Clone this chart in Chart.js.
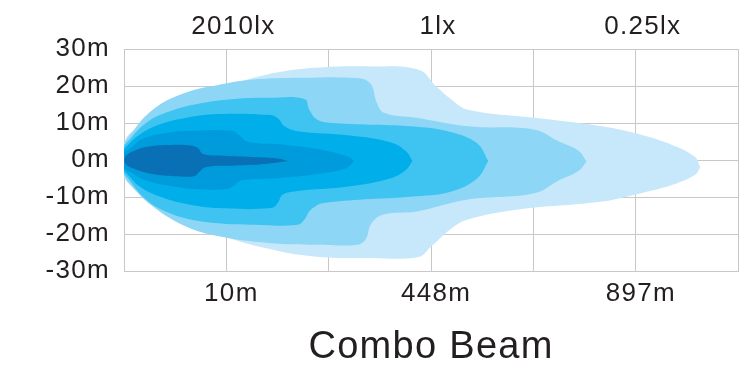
<!DOCTYPE html>
<html><head><meta charset="utf-8">
<script src="https://cdn.jsdelivr.net/npm/chart.js@4.4.1/dist/chart.umd.min.js"></script>
<style>html,body{margin:0;padding:0;background:#fff;overflow:hidden}</style>
</head><body>
<canvas id="c" width="745" height="367"></canvas>
<script>
// ---- tick labels ----
const bottomLabels = ['', '10m', '', '448m', '', '897m', ''];
const topLabels = ['', '2010lx', '', '1lx', '', '0.25lx', ''];
const yTickValues = [-30, -20, -10, 0, 10, 20, 30];
const chartTitle = 'Combo Beam';

// ---- beam contours: [x position (grid units), y offset (m)] ----
const l1Top = [[0,4.5],[0.05,7],[0.25,10.5],[0.57,15.5],[0.99,19.8],[1.38,23],[1.86,24.9],[2.41,25.3],[2.88,24.4],[3.05,19.9],[3.2,16.3],[3.36,13.6],[4.01,11.4],[4.65,9.2],[5.0,7.2],[5.36,4.0],[5.58,0.8],[5.63,-2.0]];
const l1Bottom = [[0,-4.5],[0.053,-6.2],[0.41,-13.4],[0.89,-19.7],[1.38,-23.8],[1.86,-26.1],[2.41,-26.5],[2.88,-26.2],[3.0,-23.4],[3.2,-18.5],[3.36,-16.1],[3.85,-13.4],[4.65,-11.3],[5.0,-9.3],[5.36,-6.7],[5.58,-4.0],[5.63,-2.0]];
const l2Top = [[0,4.2],[0.03,5.8],[0.28,13.6],[0.6,18.2],[0.92,20.3],[1.24,21.7],[1.73,22.2],[2.21,22.2],[2.4,20.9],[2.47,15.5],[2.54,12.8],[2.86,11.4],[3.36,9.1],[4.01,8.2],[4.25,5.0],[4.44,2.5],[4.52,-0.4]];
const l2Bottom = [[0,-4.2],[0.03,-5.8],[0.28,-12.5],[0.6,-17.9],[0.925,-20.6],[1.41,-22.4],[1.89,-22.9],[2.28,-22.9],[2.36,-21.5],[2.42,-17],[2.54,-14.7],[2.86,-13.9],[3.36,-10.7],[4.01,-9.0],[4.25,-5.5],[4.44,-3.0],[4.52,-0.4]];
const l3Top = [[0,3.8],[0.02,4.5],[0.215,10],[0.44,13.1],[0.763,15.4],[1.086,16.5],[1.41,16.8],[1.764,16.5],[1.81,13.6],[1.89,10.9],[2.05,10],[2.86,9.0],[3.2,7.5],[3.45,4.5],[3.56,-0.3]];
const l3Bottom = [[0,-3.8],[0.02,-4.4],[0.215,-10.7],[0.44,-14.3],[0.763,-16.6],[1.247,-17.5],[1.698,-17.5],[1.763,-16.1],[1.827,-13.4],[1.956,-11.6],[2.86,-9.8],[3.2,-8.5],[3.45,-5.0],[3.56,-0.3]];
const l4Top = [[0,3.0],[0.022,3.6],[0.15,6.8],[0.34,9.5],[0.6,11.35],[0.925,12.4],[1.41,12.2],[1.5,11.35],[1.57,9.1],[1.7,7.75],[2.21,6.6],[2.6,4.8],[2.75,2.5],[2.82,-0.3]];
const l4Bottom = [[0,-3.0],[0.022,-3.5],[0.15,-7.1],[0.34,-9.8],[0.6,-11.8],[0.925,-13],[1.44,-13],[1.5,-11.7],[1.55,-9.4],[1.66,-8.5],[2.21,-7.1],[2.6,-5.0],[2.75,-2.8],[2.82,-0.3]];
const l5Top = [[0,2.2],[0.053,3.0],[0.18,5.7],[0.41,7.3],[0.665,7.9],[1.05,7.9],[1.13,6.6],[1.2,5.0],[1.57,4.1],[1.96,2.6],[2.2,0.8],[2.25,-0.35]];
const l5Bottom = [[0,-2.2],[0.053,-3.1],[0.21,-5.5],[0.47,-7.1],[0.76,-8.0],[1.02,-7.8],[1.085,-6.7],[1.15,-5.5],[1.5,-4.9],[1.89,-3.8],[2.17,-2.2],[2.25,-0.35]];
const l6Top = [[0,0],[0.02,1.2],[0.085,2.3],[0.215,3.5],[0.44,4.05],[0.65,3.95],[0.72,3.3],[0.77,1.7],[0.92,1.2],[1.25,0.8],[1.52,0.35],[1.6,-0.3]];
const l6Bottom = [[0,0],[0.02,-1.2],[0.085,-2.2],[0.28,-3.8],[0.5,-4.4],[0.69,-4.3],[0.74,-3.1],[0.8,-1.9],[1.08,-1.5],[1.41,-1.0],[1.6,-0.3]];

const layerColors = ['#0a70b6', '#009bdb', '#00aeea', '#3fc4f1', '#8ed6f6', '#c6e8fa'];
const layerTops = [l6Top, l5Top, l4Top, l3Top, l2Top, l1Top];
const layerBottoms = [l6Bottom, l5Bottom, l4Bottom, l3Bottom, l2Bottom, l1Bottom];

const FONT = "'Liberation Sans', Arial, Helvetica, sans-serif";
const TEXT = '#231f20';
const GRID = '#c8c8c8';

const datasets = [];
layerTops.forEach((top, i) => {
  const common = {showLine: true, borderWidth: 0, pointRadius: 0, pointHoverRadius: 0,
    tension: 0.4, backgroundColor: layerColors[i], borderColor: layerColors[i]};
  datasets.push(Object.assign({label: 'layer' + i + 'top', data: top.map(([x, y]) => ({x, y})), fill: '+1'}, common));
  datasets.push(Object.assign({label: 'layer' + i + 'bottom', data: layerBottoms[i].map(([x, y]) => ({x, y})), fill: false}, common));
});

const spacing = {id: 'spacing', beforeDraw(chart) { chart.ctx.letterSpacing = '1.3px'; }};

new Chart(document.getElementById('c'), {
  type: 'scatter',
  data: {datasets},
  plugins: [spacing],
  options: {
    responsive: false, devicePixelRatio: 1, animation: false,
    layout: {padding: {left: 0, right: 1, top: 0, bottom: 0}},
    plugins: {legend: {display: false}, tooltip: {enabled: false}},
    scales: {
      x: {
        type: 'linear', position: 'bottom', min: 0, max: 6,
        afterFit(s) { s.height = 96; },
        grid: {color: GRID, lineWidth: 1, drawTicks: false},
        border: {display: true, color: GRID},
        ticks: {stepSize: 1, autoSkip: false, maxRotation: 0, padding: 6.9, labelOffset: 5,
          color: TEXT, font: {family: FONT, size: 26},
          callback: (v) => bottomLabels[Math.round(v)] ?? ''},
        title: {display: true, text: chartTitle, color: TEXT,
          font: {family: FONT, size: 38, lineHeight: 1.0}, padding: {top: 0, bottom: 0}}
      },
      x2: {
        type: 'linear', position: 'top', min: 0, max: 6,
        afterFit(s) { s.height = 49; },
        grid: {display: false, drawTicks: false},
        border: {display: false},
        ticks: {stepSize: 1, autoSkip: false, maxRotation: 0, padding: 6.1, labelOffset: 7,
          color: TEXT, font: {family: FONT, size: 26},
          callback: (v) => topLabels[Math.round(v)] ?? ''}
      },
      y: {
        min: -30, max: 30,
        afterFit(s) { s.width = 124; },
        afterBuildTicks(s) { s.ticks = yTickValues.map(v => ({value: v})); },
        grid: {color: GRID, lineWidth: 1, drawTicks: false},
        border: {display: true, color: GRID},
        ticks: {padding: 14, color: TEXT, font: {family: FONT, size: 26},
          callback: (v) => v + 'm'}
      }
    }
  }
});
</script>
</body></html>
